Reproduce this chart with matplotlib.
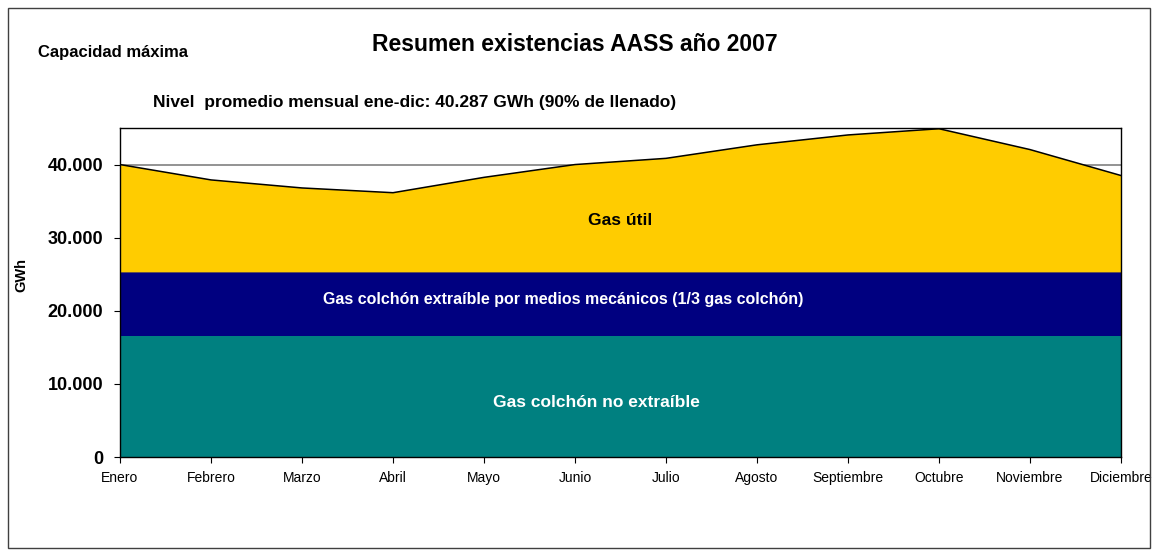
import matplotlib.pyplot as plt
from matplotlib.patches import Rectangle

plt.rcParams['font.family'] = ['Liberation Sans', 'DejaVu Sans']

# Datos (GWh)
meses = ['Enero', 'Febrero', 'Marzo', 'Abril', 'Mayo', 'Junio', 'Julio',
         'Agosto', 'Septiembre', 'Octubre', 'Noviembre', 'Diciembre']
existencias_total = [40000, 37900, 36800, 36150, 38250, 40000, 40850,
                     42700, 44050, 44900, 42050, 38500]
colchon_no_extraible = 16500
colchon_extraible = 8750
capacidad_maxima = 40000

x = list(range(len(meses)))
no_extraible = [colchon_no_extraible] * len(meses)
extraible = [colchon_extraible] * len(meses)
util = [t - colchon_no_extraible - colchon_extraible for t in existencias_total]

fig = plt.figure(figsize=(11.58, 5.56), dpi=100)
ax = fig.add_axes([120 / 1158, 1 - 457 / 556, 1001 / 1158, 329 / 556])

ax.axhline(capacidad_maxima, color='#808080', lw=1.2, zorder=0)
ax.stackplot(x, no_extraible, extraible, util,
             colors=['#008080', '#000080', '#FFCC00'], zorder=1)
ax.plot(x, existencias_total, color='black', lw=1.1, zorder=2)

ax.set_xlim(0, len(meses) - 1)
ax.set_ylim(0, 45000)
ax.set_xticks(x)
ax.set_xticklabels(meses, fontsize=10)
ax.set_yticks([0, 10000, 20000, 30000, 40000])
ax.set_yticklabels(['0', '10.000', '20.000', '30.000', '40.000'],
                   fontsize=13, fontweight='bold')
ax.tick_params(axis='both', direction='out', length=4, width=0.8, colors='black')
ax.tick_params(axis='x', pad=6)
ax.tick_params(axis='y', pad=8)
ax.set_ylabel('GWh', fontsize=10.5, fontweight='bold')
ax.yaxis.set_label_coords(-0.092, 0.553)
for s in ax.spines.values():
    s.set_linewidth(1.0)
    s.set_zorder(3)

# Etiquetas de las áreas
ax.text(5.5, 32400, 'Gas útil', ha='center', va='center',
        fontsize=12.5, fontweight='bold', color='black')
ax.text(4.87, 21500, 'Gas colchón extraíble por medios mecánicos (1/3 gas colchón)',
        ha='center', va='center', fontsize=11.5, fontweight='bold', color='white')
ax.text(5.24, 7500, 'Gas colchón no extraíble', ha='center', va='center',
        fontsize=12.5, fontweight='bold', color='white')

# Títulos
fig.text(575 / 1158, 1 - 45 / 556, 'Resumen existencias AASS año 2007',
         ha='center', va='center', fontsize=16.5, fontweight='bold')
fig.text(38 / 1158, 1 - 53 / 556, 'Capacidad máxima',
         ha='left', va='center', fontsize=12, fontweight='bold')
fig.text(153 / 1158, 1 - 103 / 556,
         'Nivel  promedio mensual ene-dic: 40.287 GWh (90% de llenado)',
         ha='left', va='center', fontsize=12.5, fontweight='bold')

# Marco exterior
fig.patches.append(Rectangle((8 / 1158, 8 / 556), 1142 / 1158, 540 / 556,
                             transform=fig.transFigure, fill=False,
                             edgecolor='#404040', lw=1.0))

fig.savefig('out.png', dpi=100)
